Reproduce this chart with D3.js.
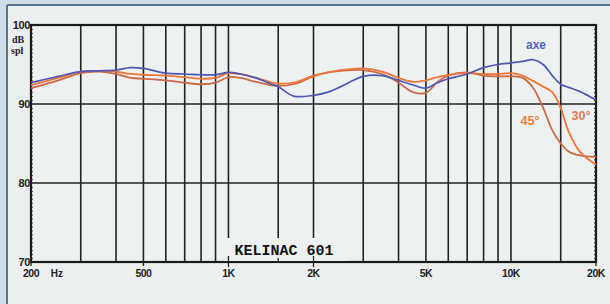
<!DOCTYPE html>
<html>
<head>
<meta charset="utf-8">
<script src="https://cdn.jsdelivr.net/npm/d3@7"></script>
<style>
  body { margin: 0; background: #cfdde6; }
  svg { display: block; }
</style>
</head>
<body>
<script>
// frequency response, Kelinac 601 (axe / 30° / 45°)
var freqs = [200, 250, 300, 350, 400, 450, 500, 600, 700, 800, 900, 1000, 1100, 1250, 1400, 1500, 1700, 2000, 2250, 2500,
             3000, 3500, 4000, 4500, 5000, 5500, 6000, 7000, 8000, 9000, 10000, 11000, 12000, 13000, 14000, 15000, 16000, 17500, 20000];

var axe = [92.7, 93.5, 94.1, 94.2, 94.3, 94.6, 94.5, 93.9, 93.8, 93.7, 93.7, 94.0, 93.8, 93.3, 92.6, 92.2, 91.0, 91.1, 91.5, 92.2,
           93.5, 93.6, 93.0, 92.4, 92.0, 92.7, 93.2, 93.8, 94.6, 95.0, 95.2, 95.4, 95.6, 95.0, 93.6, 92.5, 92.1, 91.6, 90.5];

var deg30 = [92.4, 93.3, 94.1, 94.2, 94.1, 93.8, 93.7, 93.6, 93.4, 93.2, 93.3, 93.9, 93.8, 93.3, 92.8, 92.6, 92.7, 93.6, 94.0, 94.3,
             94.5, 94.1, 93.3, 92.8, 93.0, 93.4, 93.7, 93.9, 93.8, 93.8, 93.9, 93.6, 92.9, 92.2, 91.5, 89.5, 86.5, 84.0, 82.3];

var deg45 = [92.0, 93.0, 93.9, 94.1, 93.8, 93.3, 93.2, 93.0, 92.7, 92.5, 92.7, 93.4, 93.3, 92.8, 92.4, 92.3, 92.5, 93.5, 94.0, 94.2,
             94.3, 93.8, 92.7, 91.5, 91.4, 92.8, 93.6, 94.0, 93.6, 93.5, 93.5, 93.3, 92.0, 89.5, 86.7, 85.0, 84.0, 83.5, 83.3];

var gridFreqs = [300, 400, 500, 600, 700, 800, 900, 1000, 1500, 2000, 3000, 4000, 5000, 6000, 7000, 8000, 9000, 10000, 15000];
var gridDb = [80, 90];
var xTicks = [200, 500, 1000, 2000, 5000, 10000, 20000];
var xTickText = ["200", "500", "1K", "2K", "5K", "10K", "20K"];
var yTicks = [100, 90, 80, 70];

var W = 610, H = 304;
var svg = d3.select('body').append('svg').attr('width', W).attr('height', H);

// page / frame
svg.append('rect').attr('x', 0).attr('y', 0).attr('width', W).attr('height', H).attr('fill', '#cfdde6');
svg.append('rect').attr('x', 8).attr('y', 6).attr('width', W - 8).attr('height', H - 6).attr('fill', '#eceff0');
svg.append('line').attr('x1', 7).attr('x2', 7).attr('y1', 5).attr('y2', H).attr('stroke', '#56768c').attr('stroke-width', 2);
svg.append('line').attr('x1', 7).attr('x2', W).attr('y1', 5).attr('y2', 5).attr('stroke', '#56768c').attr('stroke-width', 2);

var x = d3.scaleLog().domain([200, 20000]).range([31, 596]);
var y = d3.scaleLinear().domain([70, 100]).range([262, 25]);

svg.append('rect').attr('x', x(200)).attr('y', y(100))
  .attr('width', x(20000) - x(200)).attr('height', y(70) - y(100)).attr('fill', '#eef1f1');

// grid
svg.selectAll('.vgrid').data(gridFreqs).enter().append('line')
  .attr('x1', function(d){ return x(d); }).attr('x2', function(d){ return x(d); })
  .attr('y1', y(100)).attr('y2', y(70))
  .attr('stroke', '#222').attr('stroke-width', 1.6);
svg.selectAll('.hgrid').data(gridDb).enter().append('line')
  .attr('x1', x(200)).attr('x2', x(20000))
  .attr('y1', function(d){ return y(d); }).attr('y2', function(d){ return y(d); })
  .attr('stroke', '#222').attr('stroke-width', 1.6);

// minor ticks on both sides
var minor = d3.range(70, 100.01, 0.5);
svg.append('g').attr('transform', 'translate(' + x(200) + ',0)')
  .call(d3.axisRight(y).tickValues(minor).tickSize(2).tickFormat(''))
  .call(function(g){ g.select('.domain').remove(); g.selectAll('line').attr('stroke', '#6a4a30'); });
svg.append('g').attr('transform', 'translate(' + x(20000) + ',0)')
  .call(d3.axisLeft(y).tickValues(minor).tickSize(2).tickFormat(''))
  .call(function(g){ g.select('.domain').remove(); g.selectAll('line').attr('stroke', '#333'); });

// plot frame
svg.append('rect').attr('x', x(200)).attr('y', y(100))
  .attr('width', x(20000) - x(200)).attr('height', y(70) - y(100))
  .attr('fill', 'none').attr('stroke', '#1a1a1a').attr('stroke-width', 2.2);

// title box covers the grid lines
svg.append('rect').attr('x', x(1000) - 4).attr('y', 238).attr('width', 122).attr('height', 23).attr('fill', '#eef1f1');
svg.append('text').attr('x', 284).attr('y', 255).attr('text-anchor', 'middle')
  .style('font-family', '"Liberation Mono", monospace').style('font-weight', 'bold').style('font-size', '15px')
  .attr('fill', '#151515').text('KELINAC 601');

// bottom ticks
svg.selectAll('.xt').data([1000, 1500, 2000]).enter().append('line')
  .attr('x1', function(d){ return x(d); }).attr('x2', function(d){ return x(d); })
  .attr('y1', function(d){ return d === 1500 ? 258 : 256; }).attr('y2', function(d){ return d === 1500 ? 262 : 267; })
  .attr('stroke', '#222').attr('stroke-width', 1.3);
svg.selectAll('.xt2').data([200, 500, 20000]).enter().append('line')
  .attr('x1', function(d){ return x(d); }).attr('x2', function(d){ return x(d); })
  .attr('y1', 262).attr('y2', 266).attr('stroke', '#222').attr('stroke-width', 1.3);

// curves
var line = d3.line().curve(d3.curveCatmullRom.alpha(0.5));
function pts(vals){ return vals.map(function(v, i){ return [x(freqs[i]), y(v)]; }); }

svg.append('path').attr('d', line(pts(deg45))).attr('fill', 'none').attr('stroke', '#cc6a48').attr('stroke-width', 1.8);
svg.append('path').attr('d', line(pts(deg30))).attr('fill', 'none').attr('stroke', '#ee763a').attr('stroke-width', 1.8);
svg.append('path').attr('d', line(pts(axe))).attr('fill', 'none').attr('stroke', '#4f57b4').attr('stroke-width', 1.7);

// labels
var numFont = '"Liberation Sans", Arial, sans-serif';
svg.selectAll('.yl').data(yTicks).enter().append('text')
  .attr('x', 30).attr('y', function(d){ return y(d) + 4; })
  .attr('text-anchor', 'end')
  .style('font-family', numFont).style('font-weight', 'bold').style('font-size', '11px')
  .style('letter-spacing', '-0.4px').attr('fill', '#222').text(function(d){ return d; });
svg.append('text').attr('x', 12).attr('y', 43)
  .style('font-family', '"Liberation Serif", serif').style('font-weight', 'bold').style('font-size', '10px')
  .attr('fill', '#222').text('dB');
svg.append('text').attr('x', 11).attr('y', 54)
  .style('font-family', '"Liberation Serif", serif').style('font-weight', 'bold').style('font-size', '10px')
  .attr('fill', '#222').text('spl');

svg.selectAll('.xl').data(xTicks).enter().append('text')
  .attr('x', function(d){ return x(d); }).attr('y', 277)
  .attr('text-anchor', 'middle')
  .style('font-family', numFont).style('font-weight', 'bold').style('font-size', '10.5px')
  .style('letter-spacing', '-0.5px').attr('fill', '#222')
  .text(function(d, i){ return xTickText[i]; });
svg.append('text').attr('x', x(247)).attr('y', 277).attr('text-anchor', 'middle')
  .style('font-family', numFont).style('font-weight', 'bold').style('font-size', '10px')
  .attr('fill', '#222').text('Hz');

svg.append('text').attr('x', 536).attr('y', 49).attr('text-anchor', 'middle')
  .style('font-family', numFont).style('font-weight', 'bold').style('font-size', '12px')
  .attr('fill', '#5560b8').text('axe');
svg.append('text').attr('x', 530).attr('y', 125).attr('text-anchor', 'middle')
  .style('font-family', numFont).style('font-weight', 'bold').style('font-size', '12.5px')
  .attr('fill', '#e5823c').text('45°');
svg.append('text').attr('x', 581).attr('y', 120).attr('text-anchor', 'middle')
  .style('font-family', numFont).style('font-weight', 'bold').style('font-size', '12.5px')
  .attr('fill', '#e27a5c').text('30°');
</script>
</body>
</html>
